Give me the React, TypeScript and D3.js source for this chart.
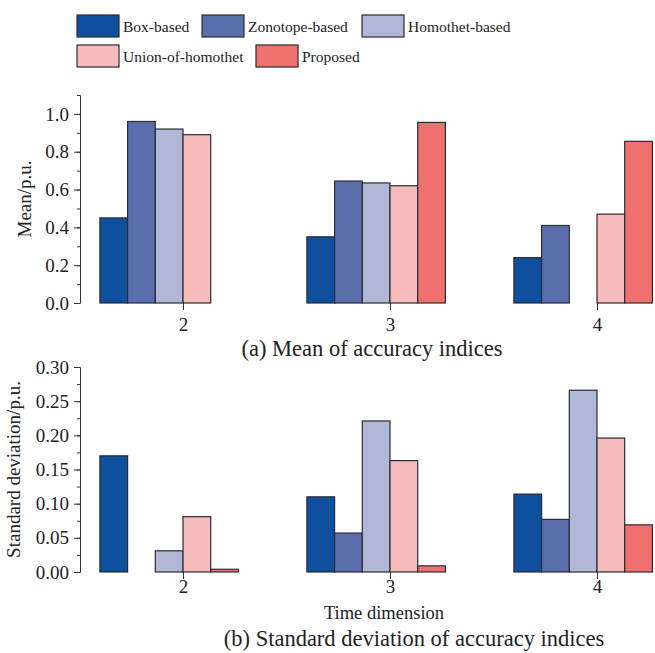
import React, { useEffect, useRef } from 'react'
import * as d3 from 'd3'

/* page size and shared font */
const width = 655
const height = 653
const font = '"Liberation Serif", "Times New Roman", serif'

/* legend / series names and fill colours */
const series = [
    'Box-based',
    'Zonotope-based',
    'Homothet-based',
    'Union-of-homothet',
    'Proposed',
]
const colors = ['#0e4f9e', '#5a6dad', '#b0b7d7', '#f4bbba', '#ee7170']

/* time dimension categories */
const dims = [2, 3, 4]

/* (a) mean of accuracy indices, one array per series (null = no bar) */
const meanBox = [0.45, 0.35, 0.24]
const meanZonotope = [0.96, 0.645, 0.41]
const meanHomothet = [0.92, 0.635, null]
const meanUnion = [0.89, 0.62, 0.47]
const meanProposed = [null, 0.955, 0.855]

/* (b) standard deviation of accuracy indices */
const stdBox = [0.17, 0.11, 0.114]
const stdZonotope = [null, 0.057, 0.077]
const stdHomothet = [0.031, 0.221, 0.266]
const stdUnion = [0.081, 0.163, 0.196]
const stdProposed = [0.004, 0.009, 0.069]

/* y tick labels */
const meanTicks = [0, 0.2, 0.4, 0.6, 0.8, 1.0]
const stdTicks = [0, 0.05, 0.1, 0.15, 0.2, 0.25, 0.3]

const axisLeftX = 80
const barWidth = 27.7
const xScale = d3.scaleLinear().domain([2, 4]).range([183, 597])
/* bars sit from -3w to +2w around the category tick */
const inner = d3
    .scaleBand()
    .domain(series)
    .range([-3 * barWidth, 2 * barWidth])
    .paddingInner(0)

type PanelProps = {
    values: (number | null)[][]
    domain: [number, number]
    range: [number, number]
    ticks: number[]
    minorStep: number
    format: string
    label: string
    labelX: number
    tickLabelOffset: number
}

const Panel = ({
    values,
    domain,
    range,
    ticks,
    minorStep,
    format,
    label,
    labelX,
    tickLabelOffset,
}: PanelProps) => {
    const yAxis = useRef<SVGGElement>(null)
    const yMinor = useRef<SVGGElement>(null)
    const xAxis = useRef<SVGGElement>(null)
    const yScale = d3.scaleLinear().domain(domain).range(range)

    useEffect(() => {
        const minor = d3.range(domain[0], domain[1] + minorStep / 2, minorStep)
        d3.select(yMinor.current!)
            .call(
                d3
                    .axisLeft(yScale)
                    .tickValues(minor)
                    .tickSize(3)
                    .tickSizeOuter(0)
                    .tickFormat(() => '')
            )
            .call((g) => g.select('.domain').attr('stroke', '#333'))
            .call((g) => g.selectAll('line').attr('stroke', '#333'))
        d3.select(yAxis.current!)
            .call(
                d3
                    .axisLeft(yScale)
                    .tickValues(ticks)
                    .tickSize(6)
                    .tickSizeOuter(0)
                    .tickPadding(5)
                    .tickFormat(d3.format(format))
            )
            .call((g) => g.select('.domain').attr('stroke', '#333'))
            .call((g) => g.selectAll('line').attr('stroke', '#333'))
            .call((g) =>
                g
                    .selectAll('text')
                    .attr('font-family', font)
                    .attr('font-size', 19)
                    .attr('fill', '#222')
            )
        d3.select(xAxis.current!)
            .call(
                d3
                    .axisBottom(xScale)
                    .tickValues(dims)
                    .tickSize(7)
                    .tickSizeOuter(0)
                    .tickPadding(tickLabelOffset)
                    .tickFormat(d3.format('d'))
            )
            .call((g) => g.select('.domain').remove())
            .call((g) => g.selectAll('line').attr('stroke', '#333'))
            .call((g) =>
                g
                    .selectAll('text')
                    .attr('font-family', font)
                    .attr('font-size', 19)
                    .attr('fill', '#222')
            )
    })

    const y0 = yScale(0)
    return (
        <g>
            {/* bars */}
            {series.map((s, si) =>
                dims.map((d, di) => {
                    const v = values[si][di]
                    if (v == null) return null
                    return (
                        <rect
                            key={`${s}-${d}`}
                            x={xScale(d) + inner(s)!}
                            y={yScale(v)}
                            width={inner.bandwidth()}
                            height={y0 - yScale(v)}
                            fill={colors[si]}
                            stroke="#2b2b33"
                            strokeWidth={1.2}
                        />
                    )
                })
            )}
            {/* axes */}
            <g ref={yMinor} transform={`translate(${axisLeftX},0)`} />
            <g ref={yAxis} transform={`translate(${axisLeftX},0)`} />
            <g ref={xAxis} transform={`translate(0,${y0})`} />
            {/* y label */}
            <text
                transform={`translate(${labelX},${(range[0] + range[1]) / 2}) rotate(-90)`}
                textAnchor="middle"
                fontFamily={font}
                fontSize={19}
                fill="#222"
            >
                {label}
            </text>
        </g>
    )
}

/* legend layout: row and column of each series */
const legendPos = [
    { x: 77, y: 15 },
    { x: 202, y: 15 },
    { x: 362, y: 15 },
    { x: 77, y: 45 },
    { x: 256, y: 45 },
]

const Legend = () => (
    <g>
        {series.map((s, i) => (
            <g key={s} transform={`translate(${legendPos[i].x},${legendPos[i].y})`}>
                <rect
                    width={42}
                    height={22}
                    fill={colors[i]}
                    stroke="#2b2b33"
                    strokeWidth={1.2}
                />
                <text
                    x={46}
                    y={17}
                    fontFamily={font}
                    fontSize={15.5}
                    fill="#222"
                >
                    {s}
                </text>
            </g>
        ))}
    </g>
)

export default function App() {
    return (
        <svg
            width={width}
            height={height}
            style={{ position: 'absolute', left: 0, top: 0, background: '#fff' }}
        >
            <Legend />
            <Panel
                values={[meanBox, meanZonotope, meanHomothet, meanUnion, meanProposed]}
                domain={[0, 1.1]}
                range={[303, 95]}
                ticks={meanTicks}
                minorStep={0.1}
                format=".1f"
                label="Mean/p.u."
                labelX={31}
                tickLabelOffset={8}
            />
            <text
                x={372}
                y={356}
                textAnchor="middle"
                fontFamily={font}
                fontSize={22.5}
                fill="#222"
            >
                (a) Mean of accuracy indices
            </text>
            <Panel
                values={[stdBox, stdZonotope, stdHomothet, stdUnion, stdProposed]}
                domain={[0, 0.3]}
                range={[572, 367]}
                ticks={stdTicks}
                minorStep={0.025}
                format=".2f"
                label="Standard deviation/p.u."
                labelX={20}
                tickLabelOffset={1}
            />
            <text
                x={384}
                y={619}
                textAnchor="middle"
                fontFamily={font}
                fontSize={18.5}
                fill="#222"
            >
                Time dimension
            </text>
            <text
                x={414}
                y={646}
                textAnchor="middle"
                fontFamily={font}
                fontSize={22.5}
                fill="#222"
            >
                (b) Standard deviation of accuracy indices
            </text>
        </svg>
    )
}
